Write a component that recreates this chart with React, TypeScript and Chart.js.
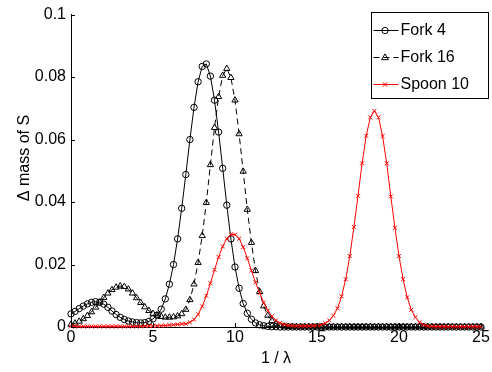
import React, { useEffect, useRef } from "react";
import { Chart, registerables } from "chart.js";

Chart.register(...registerables);

const xValues = [
  0, 0.25, 0.5, 0.75, 1, 1.25, 1.5, 1.75, 2, 2.25, 2.5, 2.75, 3, 3.25, 3.5, 3.75, 4, 4.25, 4.5, 4.75,
  5, 5.25, 5.5, 5.75, 6, 6.25, 6.5, 6.75, 7, 7.25, 7.5, 7.75, 8, 8.25, 8.5, 8.75, 9, 9.25, 9.5, 9.75,
  10, 10.25, 10.5, 10.75, 11, 11.25, 11.5, 11.75, 12, 12.25, 12.5, 12.75, 13, 13.25, 13.5, 13.75, 14, 14.25, 14.5, 14.75,
  15, 15.25, 15.5, 15.75, 16, 16.25, 16.5, 16.75, 17, 17.25, 17.5, 17.75, 18, 18.25, 18.5, 18.75, 19, 19.25, 19.5, 19.75,
  20, 20.25, 20.5, 20.75, 21, 21.25, 21.5, 21.75, 22, 22.25, 22.5, 22.75, 23, 23.25, 23.5, 23.75, 24, 24.25, 24.5, 24.75,
  25,
];

const fork4 = [
  0.0042, 0.0050, 0.0059, 0.0067, 0.0074, 0.0079, 0.0081, 0.0079, 0.0073, 0.0063, 0.0051, 0.0040, 0.0031, 0.0024, 0.0019, 0.0016, 0.0014, 0.0013, 0.0014, 0.0018,
  0.0026, 0.0038, 0.0057, 0.0090, 0.0137, 0.0200, 0.0282, 0.0380, 0.0488, 0.0600, 0.0703, 0.0785, 0.0834, 0.0842, 0.0803, 0.0726, 0.0624, 0.0508, 0.0390, 0.0282,
  0.0192, 0.0124, 0.0075, 0.0044, 0.0025, 0.0013, 0.0007, 0.0004, 0.0002, 0.0001, 0.0001, 0, 0, 0, 0, 0, 0, 0, 0, 0,
  0, 0, 0, 0, 0, 0, 0, 0, 0, 0, 0, 0, 0, 0, 0, 0, 0, 0, 0, 0,
  0, 0, 0, 0, 0, 0, 0, 0, 0, 0, 0, 0, 0, 0, 0, 0, 0, 0, 0, 0,
  0,
];

const fork16 = [
  0.0008, 0.0012, 0.0018, 0.0026, 0.0036, 0.0048, 0.0063, 0.0079, 0.0094, 0.0108, 0.0119, 0.0127, 0.0131, 0.0129, 0.0121, 0.0108, 0.0093, 0.0078, 0.0064, 0.0052,
  0.0043, 0.0037, 0.0033, 0.0031, 0.0031, 0.0032, 0.0035, 0.0042, 0.0056, 0.0087, 0.0137, 0.0206, 0.0292, 0.0398, 0.0519, 0.0638, 0.0737, 0.0805, 0.0827, 0.0798,
  0.0726, 0.0618, 0.0498, 0.0376, 0.0270, 0.0180, 0.0113, 0.0067, 0.0037, 0.0020, 0.0010, 0.0005, 0.0002, 0.0001, 0, 0, 0, 0, 0, 0,
  0, 0, 0, 0, 0, 0, 0, 0, 0, 0, 0, 0, 0, 0, 0, 0, 0, 0, 0, 0,
  0, 0, 0, 0, 0, 0, 0, 0, 0, 0, 0, 0, 0, 0, 0, 0, 0, 0, 0, 0,
  0,
];

const spoon10 = [
  0.0002, 0.0002, 0.0002, 0.0002, 0.0002, 0.0002, 0.0002, 0.0002, 0.0002, 0.0002, 0.0002, 0.0002, 0.0002, 0.0002, 0.0002, 0.0002, 0.0002, 0.0002, 0.0003, 0.0003,
  0.0003, 0.0004, 0.0004, 0.0005, 0.0006, 0.0007, 0.0008, 0.0010, 0.0010, 0.0015, 0.0024, 0.0040, 0.0066, 0.0100, 0.0140, 0.0183, 0.0224, 0.0258, 0.0283, 0.0296,
  0.0296, 0.0283, 0.0256, 0.0220, 0.0181, 0.0143, 0.0109, 0.0078, 0.0053, 0.0034, 0.0021, 0.0013, 0.0008, 0.0005, 0.0004, 0.0003, 0.0003, 0.0003, 0.0003, 0.0004,
  0.0005, 0.0007, 0.0012, 0.0021, 0.0036, 0.0060, 0.0098, 0.0153, 0.0227, 0.0320, 0.0420, 0.0524, 0.0612, 0.0671, 0.0692, 0.0671, 0.0611, 0.0524, 0.0418, 0.0318,
  0.0227, 0.0153, 0.0095, 0.0055, 0.0031, 0.0015, 0.0007, 0.0003, 0.0002, 0.0001, 0.0001, 0.0001, 0.0001, 0.0001, 0.0001, 0.0001, 0.0001, 0.0001, 0.0001, 0.0001,
  0.0001,
];

const seriesLabels = ["Fork 4", "Fork 16", "Spoon 10"];
const xTickLabels = ["0", "5", "10", "15", "20", "25"];
const yTickLabels = ["0", "0.02", "0.04", "0.06", "0.08", "0.1"];
const xTitle = "1 / \u03bb";
const yTitle = "\u0394 mass of S";

const FONT = "'Liberation Sans', Arial, Helvetica, sans-serif";

function drawMarker(ctx: CanvasRenderingContext2D, style: string, x: number, y: number, r: number) {
  ctx.beginPath();
  if (style === "circle") {
    ctx.arc(x, y, r, 0, Math.PI * 2);
  } else if (style === "triangle") {
    ctx.moveTo(x, y - r);
    ctx.lineTo(x + r * 0.95, y + r * 0.6);
    ctx.lineTo(x - r * 0.95, y + r * 0.6);
    ctx.closePath();
  } else {
    const d = r * 0.8;
    ctx.moveTo(x - d, y - d);
    ctx.lineTo(x + d, y + d);
    ctx.moveTo(x + d, y - d);
    ctx.lineTo(x - d, y + d);
  }
  ctx.stroke();
}

const insideTicks = {
  id: "insideTicks",
  afterDraw(chart: any) {
    const { ctx } = chart;
    const xs = chart.scales.x;
    const ys = chart.scales.y;
    ctx.save();
    ctx.strokeStyle = "#000";
    ctx.lineWidth = 1;
    ctx.beginPath();
    xs.ticks.forEach((t: any) => {
      const px = Math.round(xs.getPixelForValue(t.value)) + 0.5;
      ctx.moveTo(px, ys.bottom);
      ctx.lineTo(px, ys.bottom - 4);
    });
    ys.ticks.forEach((t: any) => {
      const py = Math.round(ys.getPixelForValue(t.value)) + 0.5;
      ctx.moveTo(xs.left, py);
      ctx.lineTo(xs.left + 4, py);
    });
    ctx.stroke();
    // y axis title
    ctx.fillStyle = "#000";
    ctx.font = `16px ${FONT}`;
    ctx.textAlign = "center";
    ctx.textBaseline = "middle";
    ctx.translate(25, 158);
    ctx.rotate(-Math.PI / 2);
    ctx.fillText(yTitle, 0, 0);
    ctx.restore();
  },
};

const boxLegend = {
  id: "boxLegend",
  afterDraw(chart: any) {
    const { ctx } = chart;
    const left = 371.5;
    const top = 12.5;
    const w = 117;
    const h = 86;
    ctx.save();
    ctx.fillStyle = "#fff";
    ctx.fillRect(left, top, w, h);
    ctx.strokeStyle = "#000";
    ctx.lineWidth = 1;
    ctx.strokeRect(left, top, w, h);
    chart.data.datasets.forEach((ds: any, i: number) => {
      const y = 30 + i * 27;
      ctx.strokeStyle = ds.borderColor;
      ctx.lineWidth = 1;
      ctx.setLineDash(ds.borderDash || []);
      ctx.beginPath();
      ctx.moveTo(left + 2, y + 0.5);
      ctx.lineTo(left + 27, y + 0.5);
      ctx.stroke();
      ctx.setLineDash([]);
      drawMarker(ctx, ds.pointStyle, left + 13.5, y + 0.5, ds.pointRadius);
      ctx.fillStyle = "#000";
      ctx.font = `16px ${FONT}`;
      ctx.textBaseline = "middle";
      ctx.textAlign = "left";
      ctx.fillText(ds.label, left + 29, y + 1);
    });
    ctx.restore();
  },
};

export default function App() {
  const canvasRef = useRef<HTMLCanvasElement | null>(null);

  useEffect(() => {
    const canvas = canvasRef.current;
    if (!canvas) return;
    const mk = (ys: number[]) => xValues.map((x, i) => ({ x, y: ys[i] }));
    const chart = new Chart(canvas, {
      type: "line",
      data: {
        datasets: [
          {
            label: seriesLabels[0],
            data: mk(fork4),
            borderColor: "#000000",
            borderWidth: 1,
            pointStyle: "circle",
            pointRadius: 3.2,
            pointBorderWidth: 1,
            pointBorderColor: "#000000",
            pointBackgroundColor: "rgba(0,0,0,0)",
            tension: 0,
            clip: false,
            order: 3,
          },
          {
            label: seriesLabels[1],
            data: mk(fork16),
            borderColor: "#000000",
            borderWidth: 1,
            borderDash: [6, 4],
            pointStyle: "triangle",
            pointRadius: 3.6,
            pointBorderWidth: 1,
            pointBorderColor: "#000000",
            pointBackgroundColor: "rgba(0,0,0,0)",
            tension: 0,
            clip: false,
            order: 2,
          },
          {
            label: seriesLabels[2],
            data: mk(spoon10),
            borderColor: "#ff0000",
            borderWidth: 1,
            pointStyle: "crossRot",
            pointRadius: 2.8,
            pointBorderWidth: 1,
            pointBorderColor: "#ff0000",
            pointBackgroundColor: "rgba(0,0,0,0)",
            tension: 0,
            clip: false,
            order: 1,
          },
        ] as any,
      },
      options: {
        animation: false,
        responsive: false,
        maintainAspectRatio: false,
        devicePixelRatio: 1,
        layout: { padding: { top: 14, right: 11, left: 0, bottom: 0 } },
        plugins: {
          legend: { display: false },
          tooltip: { enabled: false },
        },
        scales: {
          x: {
            type: "linear",
            min: 0,
            max: 25,
            afterFit: (s: any) => {
              s.height = 45;
            },
            grid: { display: false, drawTicks: false },
            border: { display: true, color: "#000", width: 1 },
            ticks: {
              stepSize: 5,
              padding: 1,
              color: "#000",
              font: { family: FONT, size: 16 },
              maxRotation: 0,
              callback: (_v: any, i: number) => xTickLabels[i],
            },
            title: {
              display: true,
              text: xTitle,
              color: "#000",
              font: { family: FONT, size: 16 },
              padding: { top: 0, bottom: 4 },
            },
          },
          y: {
            type: "linear",
            min: 0,
            max: 0.1,
            afterFit: (s: any) => {
              s.width = 71;
            },
            grid: { display: false, drawTicks: false },
            border: { display: true, color: "#000", width: 1 },
            ticks: {
              stepSize: 0.02,
              padding: 5,
              color: "#000",
              font: { family: FONT, size: 16 },
              callback: (_v: any, i: number) => yTickLabels[i],
            },
            title: { display: false },
          },
        },
      },
      plugins: [insideTicks, boxLegend],
    });
    return () => chart.destroy();
  }, []);

  return (
    <div style={{ position: "absolute", left: 0, top: 0, width: 492, height: 372, background: "#fff" }}>
      <canvas ref={canvasRef} width={492} height={372} style={{ display: "block" }} />
    </div>
  );
}
